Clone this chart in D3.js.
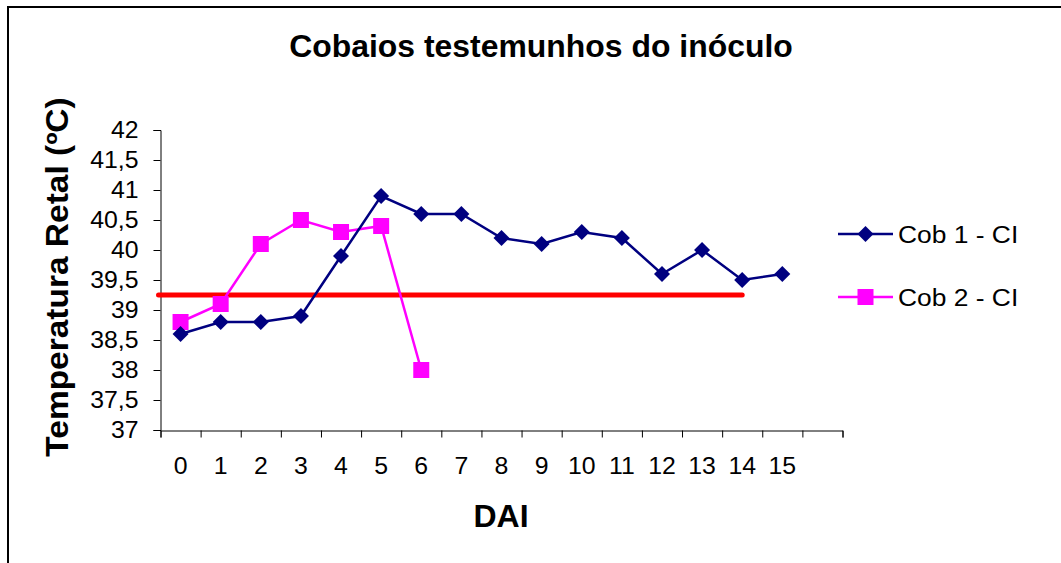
<!DOCTYPE html>
<html lang="pt">
<head>
<meta charset="UTF-8">
<title>Cobaios testemunhos do inóculo</title>
<script src="https://cdn.jsdelivr.net/npm/d3@7"></script>
<style>
  body { margin: 0; background: #fff; }
  text { font-family: Arial, "Liberation Sans", sans-serif; fill: #000; }
</style>
</head>
<body>
<svg class="svg"></svg>
<script>
  // dias após inoculação (a última categoria fica vazia, como no gráfico original)
  const dai = ['0','1','2','3','4','5','6','7','8','9','10','11','12','13','14','15',''];
  const cob1 = [38.6, 38.8, 38.8, 38.9, 39.9, 40.9, 40.6, 40.6, 40.2, 40.1, 40.3, 40.2, 39.6, 40.0, 39.5, 39.6];
  const cob2 = [38.8, 39.1, 40.1, 40.5, 40.3, 40.4, 38.0];
  const yTicks = [37, 37.5, 38, 38.5, 39, 39.5, 40, 40.5, 41, 41.5, 42];
  const refValue = 39.25;   // linha vermelha
  const refEnd = '14';

  const w = 1061, h = 563;
  const padL = 160.5, padR = 842.5, padT = 130, padB = 430;

  const svg = d3.select('.svg')
    .attr('width', w)
    .attr('height', h);

  // moldura
  svg.append('rect')
    .attr('x', 8).attr('y', 7)
    .attr('width', w + 10).attr('height', h + 10)
    .attr('fill', 'none').attr('stroke', '#000').attr('stroke-width', 2);

  const x = d3.scaleBand().domain(dai).range([padL, padR]);
  const xEdge = d3.scaleLinear().domain([0, dai.length]).range([padL, padR]);
  const y = d3.scaleLinear().domain([37, 42]).range([padB, padT]);

  // eixo y
  const yAxis = d3.axisLeft(y)
    .tickValues(yTicks)
    .tickSize(7)
    .tickFormat(d => String(d).replace('.', ','));
  const gy = svg.append('g')
    .attr('transform', 'translate(' + padL + ',0)')
    .call(yAxis);
  gy.select('.domain').attr('stroke', '#000');
  gy.selectAll('.tick line').attr('stroke', '#000');
  gy.selectAll('.tick text')
    .style('font-size', '23px')
    .attr('fill', '#000')
    .attr('x', 0)
    .attr('transform', 'translate(-22,0) scale(1.08,1)');

  // eixo x: marcas nos limites das categorias
  const gx = svg.append('g')
    .attr('transform', 'translate(0,' + (padB + 0.5) + ')')
    .call(d3.axisBottom(xEdge).tickValues(d3.range(dai.length + 1)).tickSize(7).tickFormat(''));
  gx.select('.domain').attr('stroke', '#000');
  gx.selectAll('.tick line').attr('stroke', '#000');

  const gxl = svg.append('g')
    .attr('transform', 'translate(0,' + (padB + 0.5) + ')')
    .call(d3.axisBottom(x).tickSize(0).tickPadding(27));
  gxl.select('.domain').remove();
  gxl.selectAll('.tick text')
    .style('font-size', '23px')
    .attr('fill', '#000')
    .attr('transform', 'scale(1.08,1)');

  const cx = (d, i) => x(dai[i]) + x.bandwidth() / 2;

  // linha de referência
  svg.append('line')
    .attr('x1', padL - 2)
    .attr('x2', x(refEnd) + x.bandwidth() / 2)
    .attr('y1', y(refValue))
    .attr('y2', y(refValue))
    .attr('stroke', '#ff0000')
    .attr('stroke-width', 5)
    .attr('stroke-linecap', 'round');

  const line = d3.line().x(cx).y(d => y(d));

  // Cob 2
  svg.append('path')
    .datum(cob2)
    .attr('d', line)
    .attr('fill', 'none')
    .attr('stroke', '#ff00ff')
    .attr('stroke-width', 2.5);
  svg.selectAll('.sq')
    .data(cob2)
    .enter()
    .append('rect')
    .attr('class', 'sq')
    .attr('x', (d, i) => cx(d, i) - 8)
    .attr('y', d => y(d) - 8)
    .attr('width', 16)
    .attr('height', 16)
    .attr('fill', '#ff00ff');

  // Cob 1
  svg.append('path')
    .datum(cob1)
    .attr('d', line)
    .attr('fill', 'none')
    .attr('stroke', '#000080')
    .attr('stroke-width', 2.5);
  const diamond = d3.symbol().type(d3.symbolSquare).size(128);
  svg.selectAll('.dm')
    .data(cob1)
    .enter()
    .append('path')
    .attr('class', 'dm')
    .attr('d', diamond)
    .attr('transform', (d, i) => 'translate(' + cx(d, i) + ',' + y(d) + ') rotate(45)')
    .attr('fill', '#000080');

  // títulos
  svg.append('text')
    .attr('transform', 'translate(541,57) scale(1.03,1)')
    .attr('text-anchor', 'middle')
    .style('font-size', '31px').style('font-weight', 'bold')
    .text('Cobaios testemunhos do inóculo');

  svg.append('text')
    .attr('transform', 'translate(68,277) rotate(-90) scale(1.08,1)')
    .attr('text-anchor', 'middle')
    .style('font-size', '31px').style('font-weight', 'bold')
    .text('Temperatura Retal (ºC)');

  svg.append('text')
    .attr('x', 501).attr('y', 527)
    .attr('text-anchor', 'middle')
    .style('font-size', '32px').style('font-weight', 'bold')
    .text('DAI');

  // legenda
  const legend = [
    { name: 'Cob 1 - CI', color: '#000080', y: 234, mark: 'diamond' },
    { name: 'Cob 2 - CI', color: '#ff00ff', y: 297, mark: 'square' }
  ];
  const lg = svg.selectAll('.lg')
    .data(legend)
    .enter()
    .append('g')
    .attr('transform', d => 'translate(838,' + d.y + ')');
  lg.append('line')
    .attr('x1', 0).attr('x2', 55)
    .attr('stroke', d => d.color).attr('stroke-width', 2.5);
  lg.filter(d => d.mark === 'diamond').append('path')
    .attr('d', diamond)
    .attr('transform', 'translate(27.5,0) rotate(45)')
    .attr('fill', d => d.color);
  lg.filter(d => d.mark === 'square').append('rect')
    .attr('x', 19.5).attr('y', -8).attr('width', 16).attr('height', 16)
    .attr('fill', d => d.color);
  lg.append('text')
    .attr('transform', 'translate(60,9) scale(1.1,1)')
    .style('font-size', '24px')
    .text(d => d.name);
</script>
</body>
</html>
